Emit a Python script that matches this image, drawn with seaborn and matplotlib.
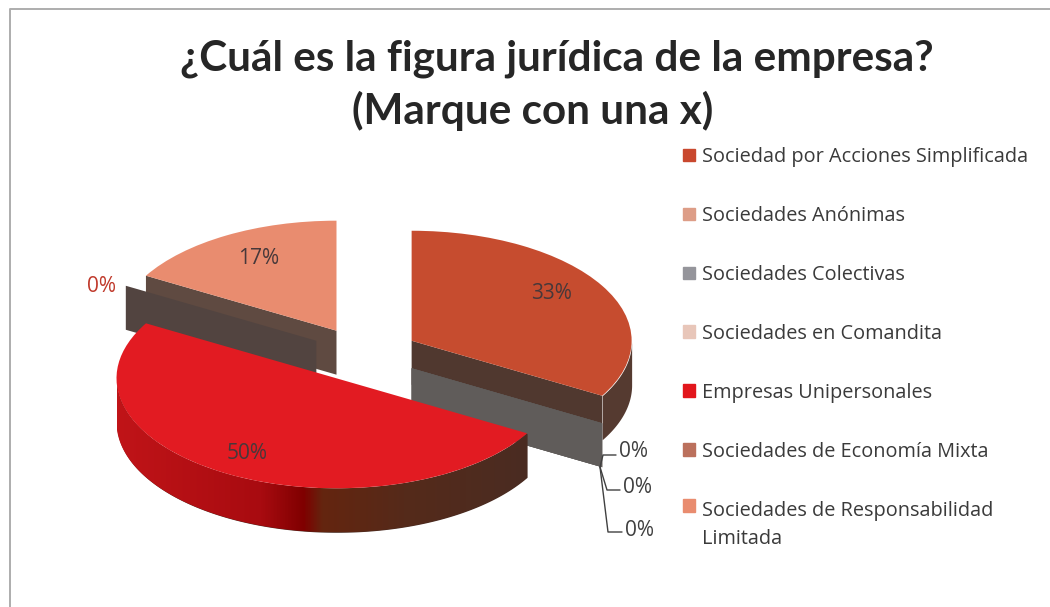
import numpy as np
import matplotlib
matplotlib.use('Agg')
import matplotlib.pyplot as plt
from matplotlib.colors import LinearSegmentedColormap
import seaborn as sns

title_lines = ['¿Cuál es la figura jurídica de la empresa?', '(Marque con una x)']
categories = ['Sociedad por Acciones Simplificada', 'Sociedades Anónimas', 'Sociedades Colectivas',
              'Sociedades en Comandita', 'Empresas Unipersonales', 'Sociedades de Economía Mixta',
              'Sociedades de Responsabilidad\nLimitada']
values = [33.33, 0, 0, 0, 50.0, 0, 16.67]

legend_colors = ['#c9482e', '#dd9d87', '#95959b', '#e8c6b9', '#e2161c', '#bb705c', '#e98c6f']
top_colors = ['#c64c2f', '#dd9d87', '#95959b', '#e8c6b9', '#e21b22', '#bb705c', '#e98c6f']
wall_colors = ['#553a30', '#5f4a41', '#5f4a41', '#5f4a41', '#4a2c22', '#5f4a41', '#5f4a41']
face_colors = ['#50382f', '#605c5a', '#605c5a', '#605c5a', '#4a2c22', '#524440', '#5f4a41']
draw_order = [3, 4, 4, 4, 5, 2, 1]

sns.set_theme(style='white')
plt.rcParams['font.family'] = ['Open Sans', 'DejaVu Sans']

W, H = 1050, 607
CX, CY = 364, 354.5  # pie centre in pixels
RX, RY = 220, 110    # tilted pie radius in pixels
DEPTH = 44 / RY

fig = plt.figure(figsize=(W / 100, H / 100), dpi=100)
ax = fig.add_axes([0, 0, 1, 1])


def px(x, y):
    return (x - CX) / RX, (CY - y) / RY


wedges, _ = ax.pie(values, colors=sns.color_palette(top_colors), startangle=90, counterclock=False,
                   explode=[0.25] * len(values), radius=1, wedgeprops={'linewidth': 0})
ax.set_aspect('auto')

red_wall = LinearSegmentedColormap.from_list('red_wall', [(0, '#c01418'), (0.35, '#a80b10'), (0.455, '#7f0000'),
                                                          (0.5, '#64250f'), (0.7, '#552a1a'), (1, '#4a2c22')])

for i, w in enumerate(wedges):
    z = draw_order[i]
    cx, cy = w.center
    t1, t2 = w.theta1, w.theta2
    w.set_zorder(z + 0.5)

    # radial cut faces that look towards the viewer
    for t, normal in [(t1, t1 - 90), (t2, t2 + 90)]:
        if np.sin(np.radians(normal)) < -1e-6:
            ex = cx + w.r * np.cos(np.radians(t))
            ey = cy + w.r * np.sin(np.radians(t))
            ax.fill([cx, ex, ex, cx], [cy, ey, ey - DEPTH, cy - DEPTH], color=face_colors[i], lw=0, zorder=z + 0.1)

    # outer wall, front half only
    if t2 > t1:
        th = np.radians(np.linspace(t1, t2, 240))
        th = th[np.sin(th) < 0.01]
        if len(th) < 2:
            continue
        order = np.argsort(np.cos(th))
        xs = cx + w.r * np.cos(th[order])
        ys = cy + w.r * np.sin(th[order])
        poly = ax.fill_between(xs, ys, ys - DEPTH, color=wall_colors[i], lw=0, zorder=z + 0.2)
        if values[i] == max(values):
            grad = np.linspace(0, 1, 400).reshape(1, -1)
            im = ax.imshow(grad, cmap=red_wall, aspect='auto', zorder=z + 0.3, interpolation='bilinear',
                           extent=(xs.min(), xs.max(), ys.min() - DEPTH, ys.max()))
            im.set_clip_path(poly.get_paths()[0], transform=ax.transData)

ax.set_xlim(-CX / RX, (W - CX) / RX)
ax.set_ylim((CY - H) / RY, CY / RY)
ax.axis('off')

# data labels
label_text = [f'{v:.0f}%' for v in values]
label_pos = [(552, 293.5), (634, 451.5), (637, 487.5), (639, 530), (247, 453.5), (102, 286), (259, 258)]
label_col = ['#47383a', '#404040', '#404040', '#404040', '#47383a', '#c0392b', '#47383a']
for s, (x, y), c in zip(label_text, label_pos, label_col):
    ax.text(*px(x, y), s, ha='center', va='center', fontsize=15, color=c, zorder=10)

# leader lines of the zero labels
for pts in [[(600, 467), (603, 455), (616, 455)], [(600, 467), (607, 490), (620, 490)], [(600, 467), (608, 532), (622, 532)]]:
    lx, ly = zip(*[px(*p) for p in pts])
    ax.plot(lx, ly, color='#404040', lw=1, zorder=9)

# chart area border
bx, by = zip(*[px(*p) for p in [(9.5, H), (9.5, 8.5), (W, 8.5)]])
ax.plot(bx, by, color='#adadad', lw=1.4, zorder=0)

# the two title lines are not centred on each other in the original
for line, tx, ty in zip(title_lines, [557, 533], [59, 111]):
    fig.text(tx / W, 1 - ty / H, line, ha='center', va='center', fontsize=30.4, fontweight='bold', color='#262626',
             family=['Lato', 'DejaVu Sans'])

handles = [plt.Rectangle((0, 0), 1, 1, color=c) for c in legend_colors]
leg = fig.legend(handles, categories, loc='upper left', bbox_to_anchor=(683 / W, 1 - 147 / H), frameon=False,
                 fontsize=14.3, labelspacing=1.96, handlelength=0.6, handleheight=0.6, handletextpad=0.35,
                 labelcolor='#3a3a3a', borderpad=0, borderaxespad=0)
for t in leg.get_texts():
    t.set_linespacing(1.53)
# marker of the wrapped entry sits on its first line
leg.legend_handles[-1].set_y(leg.legend_handles[-1].get_y() + 14)

fig.savefig('out.png', dpi=100)
